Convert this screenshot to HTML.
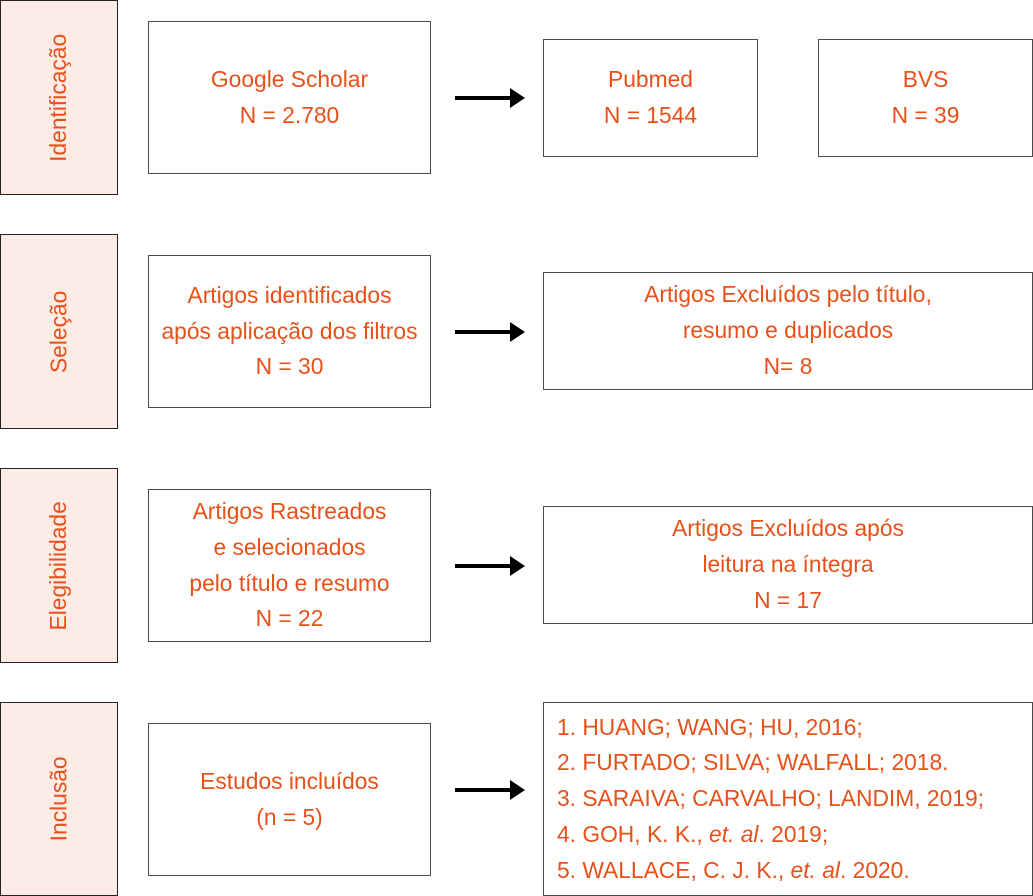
<!DOCTYPE html>
<html><head><meta charset="utf-8"><style>
body{margin:0;width:1033px;height:896px;background:#fff;position:relative;overflow:hidden;font-family:"Liberation Sans",sans-serif;color:#e8501a;font-size:22.8px}
.b{position:absolute;box-sizing:border-box;border:1.5px solid #4a4a4a;display:flex;align-items:center;justify-content:center;text-align:center;line-height:35.7px;background:#fff}
.s{background:#fdece5;border-color:#222}
.s span{transform:rotate(-90deg);white-space:nowrap}
.a{position:absolute;left:455px;width:58px;height:4px;background:#000}
.a:after{content:"";position:absolute;left:55px;top:-8px;border-left:15px solid #000;border-top:10px solid transparent;border-bottom:10px solid transparent}
</style></head><body>
<div class="b s" style="left:0;top:0;width:118px;height:195px"><span>Identificação</span></div>
<div class="b s" style="left:0;top:234px;width:118px;height:195px"><span>Seleção</span></div>
<div class="b s" style="left:0;top:468px;width:118px;height:195px"><span>Elegibilidade</span></div>
<div class="b s" style="left:0;top:702px;width:118px;height:194px"><span>Inclusão</span></div>

<div class="b" style="left:148px;top:21px;width:283px;height:153px"><div>Google Scholar<br>N = 2.780</div></div>
<div class="b" style="left:148px;top:255px;width:283px;height:153px"><div>Artigos identificados<br>após aplicação dos filtros<br>N = 30</div></div>
<div class="b" style="left:148px;top:489px;width:283px;height:153px"><div>Artigos Rastreados<br>e selecionados<br>pelo título e resumo<br>N = 22</div></div>
<div class="b" style="left:148px;top:723px;width:283px;height:153px"><div>Estudos incluídos<br>(n = 5)</div></div>

<div class="b" style="left:543px;top:39px;width:215px;height:118px"><div>Pubmed<br>N = 1544</div></div>
<div class="b" style="left:818px;top:39px;width:215px;height:118px"><div>BVS<br>N = 39</div></div>
<div class="b" style="left:543px;top:272px;width:490px;height:118px"><div>Artigos Excluídos pelo título,<br>resumo e duplicados<br>N= 8</div></div>
<div class="b" style="left:543px;top:506px;width:490px;height:118px"><div>Artigos Excluídos após<br>leitura na íntegra<br>N = 17</div></div>
<div class="b" style="left:543px;top:702px;width:490px;height:194px;justify-content:flex-start;text-align:left;padding-left:13px"><div style="white-space:nowrap">1. HUANG; WANG; HU, 2016;<br>2. FURTADO; SILVA; WALFALL; 2018.<br>3. SARAIVA; CARVALHO; LANDIM, 2019;<br>4. GOH, K. K., <i>et. al</i>. 2019;<br>5. WALLACE, C. J. K., <i>et. al</i>. 2020.</div></div>

<div class="a" style="top:96px"></div>
<div class="a" style="top:330px"></div>
<div class="a" style="top:564px"></div>
<div class="a" style="top:788px"></div>
</body></html>
